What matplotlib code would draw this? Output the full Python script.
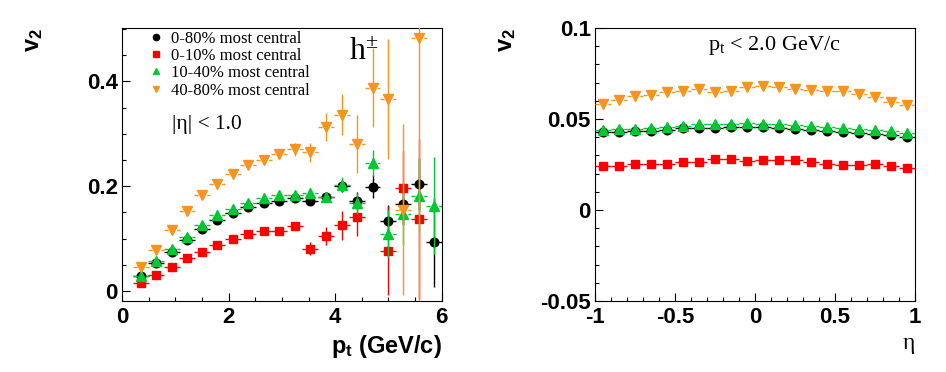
import matplotlib
matplotlib.use("Agg")
import matplotlib.pyplot as plt
from matplotlib.ticker import MultipleLocator
from matplotlib.lines import Line2D

plt.rcParams['font.family'] = 'Liberation Sans'
plt.rcParams['mathtext.fontset'] = 'custom'
plt.rcParams['mathtext.rm'] = 'Liberation Serif'
plt.rcParams['mathtext.it'] = 'Liberation Serif:italic'
plt.rcParams['mathtext.bf'] = 'Liberation Sans:bold'

# ---- left panel: v2 vs pt ----
pt_all = [0.35, 0.64, 0.93, 1.22, 1.50, 1.79, 2.08, 2.37, 2.66, 2.95,
          3.24, 3.53, 3.82, 4.12, 4.41, 4.70, 4.99, 5.28, 5.57, 5.86]
v2_0_80 = [0.029, 0.054, 0.075, 0.098, 0.118, 0.135, 0.148, 0.161, 0.168, 0.172,
           0.178, 0.171, 0.180, 0.200, 0.172, 0.199, 0.134, 0.166, 0.204, 0.093]
err_0_80 = [0.002, 0.002, 0.002, 0.002, 0.002, 0.003, 0.003, 0.003, 0.004, 0.004,
            0.005, 0.006, 0.008, 0.012, 0.016, 0.022, 0.030, 0.040, 0.050, 0.085]

pt_0_10 = [0.35, 0.64, 0.93, 1.22, 1.50, 1.79, 2.08, 2.37, 2.66, 2.95,
           3.24, 3.53, 3.82, 4.12, 4.41, 4.99, 5.28, 5.57]
v2_0_10 = [0.016, 0.030, 0.046, 0.062, 0.074, 0.088, 0.099, 0.109, 0.114, 0.114,
           0.124, 0.081, 0.105, 0.125, 0.141, 0.077, 0.197, 0.137]
err_0_10 = [0.003, 0.003, 0.003, 0.003, 0.004, 0.004, 0.005, 0.005, 0.006, 0.007,
            0.008, 0.012, 0.018, 0.027, 0.037, 0.085, 0.070, 0.153]

v2_10_40 = [0.029, 0.057, 0.080, 0.103, 0.126, 0.145, 0.157, 0.168, 0.178, 0.183,
            0.184, 0.187, 0.180, 0.203, 0.167, 0.244, 0.109, 0.147, 0.181, 0.163]
err_10_40 = [0.002, 0.002, 0.002, 0.003, 0.003, 0.003, 0.004, 0.004, 0.004, 0.005,
             0.006, 0.007, 0.009, 0.014, 0.020, 0.025, 0.045, 0.060, 0.068, 0.093]

pt_40_80 = pt_all[:19]
v2_40_80 = [0.046, 0.079, 0.116, 0.152, 0.183, 0.204, 0.223, 0.241, 0.249, 0.261,
            0.270, 0.265, 0.313, 0.336, 0.281, 0.388, 0.366, 0.155, 0.482]
err_40_80 = [0.003, 0.003, 0.004, 0.004, 0.005, 0.006, 0.006, 0.007, 0.008, 0.009,
             0.012, 0.018, 0.026, 0.039, 0.055, 0.076, 0.115, 0.163, 0.550]

# ---- right panel: v2 vs eta ----
eta = [-0.95, -0.85, -0.75, -0.65, -0.55, -0.45, -0.35, -0.25, -0.15, -0.05,
       0.05, 0.15, 0.25, 0.35, 0.45, 0.55, 0.65, 0.75, 0.85, 0.95]
eta_0_80 = [0.0430, 0.0428, 0.0433, 0.0434, 0.0440, 0.0448, 0.0452, 0.0452, 0.0453, 0.0458,
            0.0458, 0.0449, 0.0445, 0.0440, 0.0434, 0.0429, 0.0425, 0.0418, 0.0412, 0.0403]
eta_0_10 = [0.0242, 0.0242, 0.0253, 0.0253, 0.0253, 0.0266, 0.0266, 0.0278, 0.0282, 0.0269,
            0.0275, 0.0275, 0.0275, 0.0264, 0.0253, 0.0247, 0.0247, 0.0255, 0.0242, 0.0231]
eta_10_40 = [0.0440, 0.0443, 0.0445, 0.0449, 0.0458, 0.0463, 0.0470, 0.0474, 0.0474, 0.0476,
             0.0474, 0.0472, 0.0465, 0.0460, 0.0455, 0.0450, 0.0445, 0.0440, 0.0433, 0.0425]
eta_40_80 = [0.0582, 0.0604, 0.0626, 0.0634, 0.0647, 0.0654, 0.0665, 0.0648, 0.0654, 0.0678,
             0.0683, 0.0678, 0.0665, 0.0659, 0.0654, 0.0654, 0.0637, 0.0623, 0.0595, 0.0577]

labels = ["0-80% most central", "0-10% most central",
          "10-40% most central", "40-80% most central"]
colors = ["#000000", "#ff0000", "#00c832", "#f7941d"]
markers = ["o", "s", "^", "v"]
msizes = [6.2, 6.0, 6.5, 6.5]
xdash = [None, None, (0, (3, 1.6)), (0, (3, 1.6))]


def draw(ax, x, y, yerr, xerr, i):
    z = 2 + i
    if yerr is not None:
        ax.errorbar(x, y, yerr=yerr, fmt='none', ecolor=colors[i], elinewidth=1.0, zorder=z)
    eb = ax.errorbar(x, y, xerr=xerr, fmt='none', ecolor=colors[i], elinewidth=1.0, zorder=z)
    if xdash[i] is not None:
        eb[2][0].set_linestyle(xdash[i])
    ax.plot(x, y, ls='none', marker=markers[i], ms=msizes[i], color=colors[i],
            mec=colors[i], zorder=z + 0.5)


def style(ax):
    for s in ax.spines.values():
        s.set_linewidth(0.8)
    ax.tick_params(which='both', direction='in', top=False, right=False, width=0.8)
    ax.tick_params(which='major', length=5.5, labelsize=16)
    ax.tick_params(which='minor', length=3.2)
    ax.tick_params(axis='y', pad=3)
    ax.tick_params(axis='x', pad=4)
    for lab in ax.get_xticklabels() + ax.get_yticklabels():
        lab.set_fontweight('bold')


fig = plt.figure(figsize=(9.46, 3.72), dpi=100)
ax1 = fig.add_axes([0.129, 0.191, 0.338, 0.734])
ax2 = fig.add_axes([0.629, 0.191, 0.338, 0.734])

draw(ax1, pt_all, v2_0_80, err_0_80, 0.15, 0)
draw(ax1, pt_0_10, v2_0_10, err_0_10, 0.15, 1)
draw(ax1, pt_all, v2_10_40, err_10_40, 0.15, 2)
draw(ax1, pt_40_80, v2_40_80, err_40_80, 0.15, 3)

ax1.set_xlim(0, 6)
ax1.set_ylim(-0.019, 0.502)
ax1.set_xticks([0, 2, 4, 6], ['0', '2', '4', '6'])
ax1.set_yticks([0, 0.2, 0.4], ['0', '0.2', '0.4'])
ax1.xaxis.set_minor_locator(MultipleLocator(0.5))
ax1.yaxis.set_minor_locator(MultipleLocator(0.05))
style(ax1)
ax1.set_xlabel(r'$\mathbf{p}_{\mathbf{t}}$ (GeV/c)', loc='right', fontsize=17,
               fontweight='bold', labelpad=4)
ax1.set_ylabel(r'$\mathbf{v}_{\mathbf{2}}$', loc='top', fontsize=17)
ax1.yaxis.set_label_coords(-0.24, 1.0)

handles = [Line2D([], [], ls='none', marker=markers[i], color=colors[i], ms=4.5)
           for i in range(4)]
ax1.legend(handles, labels, loc='upper left', bbox_to_anchor=(0.085, 0.99),
           frameon=False, prop={'family': 'Liberation Serif', 'size': 12},
           handlelength=0.8, handletextpad=0.5, labelspacing=0.08,
           borderpad=0, borderaxespad=0)
ax1.text(0.155, 0.645, '|η| < 1.0', transform=ax1.transAxes, ha='left', va='center',
         family='Liberation Serif', fontsize=15.5)
ax1.text(0.755, 0.91, r'h$^{\pm}$', transform=ax1.transAxes, ha='center', va='center',
         family='Liberation Serif', fontsize=23)

draw(ax2, eta, eta_0_80, None, 0.05, 0)
draw(ax2, eta, eta_0_10, None, 0.05, 1)
draw(ax2, eta, eta_10_40, None, 0.05, 2)
draw(ax2, eta, eta_40_80, None, 0.05, 3)

ax2.set_xlim(-1, 1)
ax2.set_ylim(-0.05, 0.1)
ax2.set_xticks([-1, -0.5, 0, 0.5, 1], ['-1', '-0.5', '0', '0.5', '1'])
ax2.set_yticks([-0.05, 0, 0.05, 0.1], ['-0.05', '0', '0.05', '0.1'])
ax2.xaxis.set_minor_locator(MultipleLocator(0.1))
ax2.yaxis.set_minor_locator(MultipleLocator(0.01))
style(ax2)
ax2.set_xlabel('η', loc='right', fontsize=17, family='Liberation Serif', labelpad=4)
ax2.set_ylabel(r'$\mathbf{v}_{\mathbf{2}}$', loc='top', fontsize=17)
ax2.yaxis.set_label_coords(-0.24, 1.0)
ax2.text(0.353, 0.935, r'p$_{\mathrm{t}}$ < 2.0 GeV/c', transform=ax2.transAxes,
         ha='left', va='center', family='Liberation Serif', fontsize=16)

fig.savefig('out.png', dpi=100)
